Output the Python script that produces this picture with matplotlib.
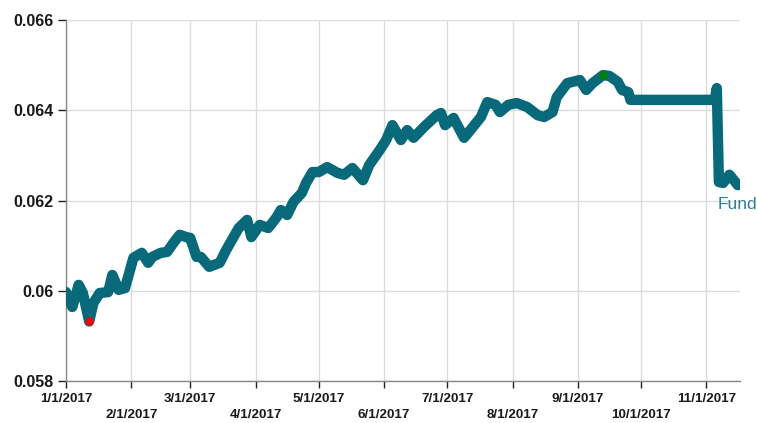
import matplotlib
matplotlib.use("Agg")
import matplotlib.pyplot as plt
import pandas as pd

# Fund yield series, 2017
dates = [
    "2017-01-01", "2017-01-04", "2017-01-07", "2017-01-09", "2017-01-12",
    "2017-01-14", "2017-01-17", "2017-01-21", "2017-01-23", "2017-01-26",
    "2017-01-29", "2017-02-02", "2017-02-06", "2017-02-09", "2017-02-11",
    "2017-02-15", "2017-02-18", "2017-02-21", "2017-02-24", "2017-02-27",
    "2017-03-01", "2017-03-04", "2017-03-06", "2017-03-10", "2017-03-15",
    "2017-03-18", "2017-03-24", "2017-03-28", "2017-03-30", "2017-04-03",
    "2017-04-07", "2017-04-11", "2017-04-13", "2017-04-16", "2017-04-19",
    "2017-04-23", "2017-04-25", "2017-04-28", "2017-05-01", "2017-05-05",
    "2017-05-10", "2017-05-13", "2017-05-17", "2017-05-22", "2017-05-25",
    "2017-05-30", "2017-06-02", "2017-06-05", "2017-06-09", "2017-06-12",
    "2017-06-15", "2017-06-20", "2017-06-26", "2017-06-28", "2017-06-30",
    "2017-07-04", "2017-07-09", "2017-07-12", "2017-07-17", "2017-07-20",
    "2017-07-24", "2017-07-26", "2017-07-30", "2017-08-03", "2017-08-08",
    "2017-08-13", "2017-08-16", "2017-08-20", "2017-08-22", "2017-08-27",
    "2017-09-02", "2017-09-05", "2017-09-08", "2017-09-13", "2017-09-16",
    "2017-09-20", "2017-09-22", "2017-09-25", "2017-09-26", "2017-10-05",
    "2017-10-15", "2017-10-25", "2017-11-05", "2017-11-06", "2017-11-07",
    "2017-11-09", "2017-11-12", "2017-11-16",
]
values = [
    0.05997, 0.05964, 0.06013, 0.05995, 0.05932,
    0.05973, 0.05995, 0.05997, 0.06035, 0.06002,
    0.06006, 0.06073, 0.06084, 0.06062, 0.06075,
    0.06084, 0.06086, 0.06106, 0.06124, 0.06119,
    0.06117, 0.06075, 0.06075, 0.06053, 0.06062,
    0.06090, 0.06139, 0.06157, 0.06119, 0.06146,
    0.06139, 0.06163, 0.06179, 0.06168, 0.06197,
    0.06217, 0.06239, 0.06263, 0.06263, 0.06274,
    0.06261, 0.06257, 0.06272, 0.06245, 0.06279,
    0.06312, 0.06334, 0.06367, 0.06334, 0.06356,
    0.06339, 0.06363, 0.06389, 0.06394, 0.06367,
    0.06383, 0.06339, 0.06356, 0.06385, 0.06418,
    0.06412, 0.06396, 0.06412, 0.06416, 0.06407,
    0.06389, 0.06385, 0.06396, 0.06429, 0.06460,
    0.06467, 0.06445, 0.06460, 0.06478, 0.06476,
    0.06463, 0.06445, 0.06440, 0.06423, 0.06423,
    0.06423, 0.06423, 0.06423, 0.06449, 0.06241,
    0.06239, 0.06257, 0.06234,
]
series_name = "Fund"
y_ticks = [0.058, 0.06, 0.062, 0.064, 0.066]
y_tick_labels = ["0.058", "0.06", "0.062", "0.064", "0.066"]
month_ticks = ["2017-%02d-01" % m for m in range(1, 12)]
month_labels = ["%d/1/2017" % m for m in range(1, 12)]

line_color = "#07697a"

df = pd.DataFrame({"date": pd.to_datetime(dates), "value": values})

fig = plt.figure(figsize=(7.57, 4.23), dpi=100)
ax = fig.add_axes([0.0872, 0.0993, 0.8903, 0.8534])

ax.plot(df["date"], df["value"], color=line_color, linewidth=7.5,
        solid_joinstyle="round", solid_capstyle="round", zorder=3)

# lowest and highest points
imin = df["value"].idxmin()
imax = df["value"].idxmax()
ax.plot(df["date"][imin], df["value"][imin], "o", color="#ff0000",
        markersize=5, zorder=4)
ax.plot(df["date"][imax], df["value"][imax], "o", color="#008000",
        markersize=5, zorder=4)

ax.set_ylim(0.058, 0.066)
ax.set_xlim(pd.Timestamp("2017-01-01"), pd.Timestamp("2017-11-17"))

ax.set_yticks(y_ticks)
ax.set_yticklabels(y_tick_labels)
ax.set_xticks(pd.to_datetime(month_ticks))
ax.set_xticklabels(month_labels)

for lab in ax.get_yticklabels():
    lab.set_fontfamily("Liberation Sans")
    lab.set_fontweight("bold")
    lab.set_fontsize(11.5)
    lab.set_color("#1a1a1a")
for lab in ax.get_xticklabels():
    lab.set_fontfamily("Liberation Sans")
    lab.set_fontweight("bold")
    lab.set_fontsize(9.6)
    lab.set_color("#1a1a1a")

ax.tick_params(axis="y", length=6, width=1, color="#222222", pad=3)
ax.tick_params(axis="x", length=5, width=1, color="#222222", pad=3.5)
for i, t in enumerate(ax.xaxis.get_major_ticks()):
    if i % 2 == 1:
        t.set_pad(3.5 + 11.5)

ax.grid(True, color="#dcdcdc", linewidth=1)
ax.set_axisbelow(True)
for side in ["top", "right"]:
    ax.spines[side].set_visible(False)
for side in ["left", "bottom"]:
    ax.spines[side].set_color("#888888")
    ax.spines[side].set_linewidth(1)

ax.annotate(series_name, xy=(df["date"].iloc[-1], df["value"].iloc[-1]),
            xytext=(-20, -12), textcoords="offset pixels",
            ha="left", va="top", fontsize=12.5, color="#2b7f97",
            family="Liberation Sans", annotation_clip=False)

fig.savefig("out.png", dpi=100)
